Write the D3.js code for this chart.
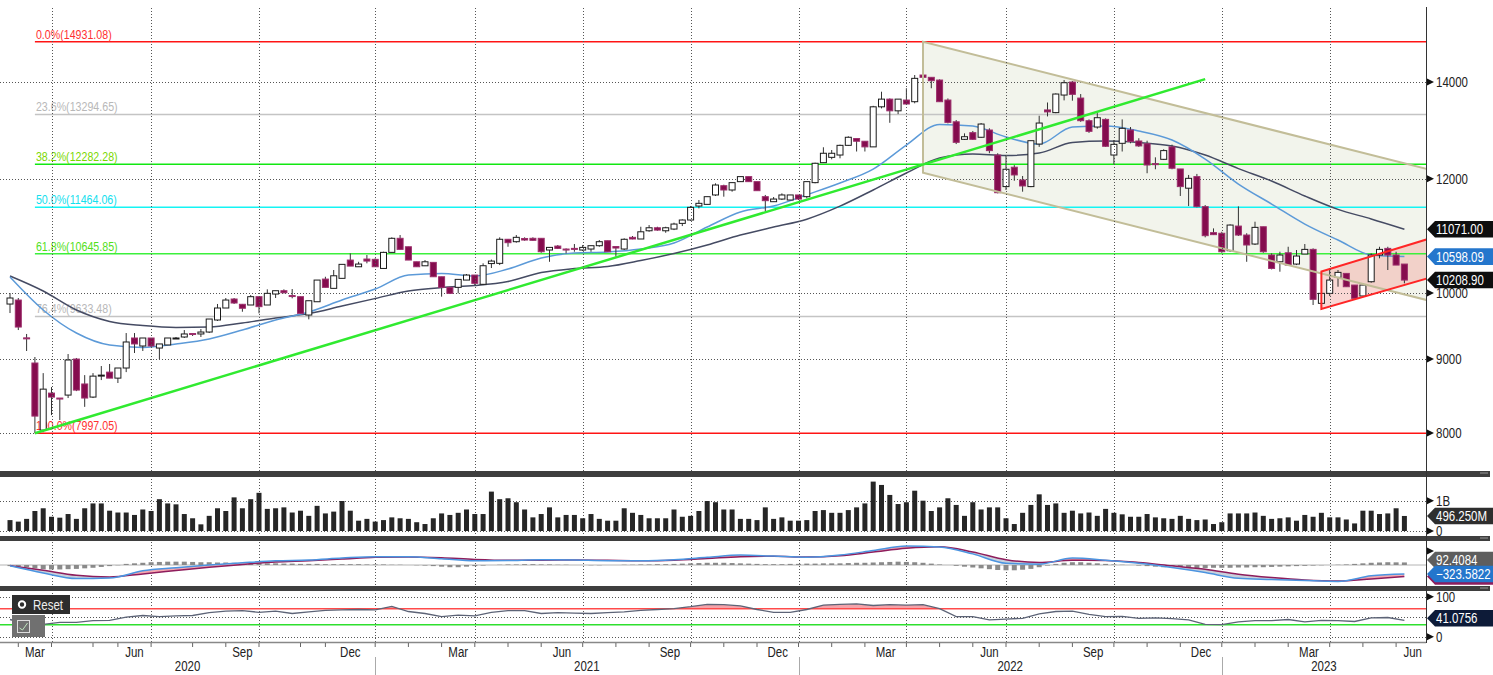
<!DOCTYPE html>
<html>
<head>
<meta charset="utf-8">
<script src="https://cdn.jsdelivr.net/npm/d3@7"></script>
<style>
  body { margin: 0; background: #fff; }
  svg { display: block; }
  text { font-family: "Liberation Sans", Arial, sans-serif; }
</style>
</head>
<body>
<div id="chart"></div>
<script>
// weekly candles, one per trading week (bar index 0..168)
var opens = [9826, 9889, 9310, 8944, 8036, 8525, 8458, 8498, 9001, 8650,
  8471, 8766, 8815, 8731, 8873, 9308, 9190, 9308, 9160, 9205,
  9300, 9323, 9375, 9368, 9397, 9579, 9764, 9905, 9822, 9811,
  9942, 9811, 9984, 10037, 9960, 9942, 9655, 9862, 10225, 10075,
  10237, 10540, 10428, 10557, 10552, 10400, 10670, 10912, 10766, 10511,
  10444, 10501, 10263, 10091, 10091, 10209, 10291, 10140, 10481, 10485,
  10895, 10853, 10909, 10912, 10912, 10710, 10778, 10727, 10738, 10710,
  10727, 10784, 10870, 10770, 10727, 10929, 10900, 11044, 11097, 11044,
  11074, 11175, 11235, 11488, 11519, 11693, 11867, 11786, 11944, 12040,
  11944, 11661, 11568, 11617, 11599, 11693, 11661, 11925, 12311, 12416,
  12462, 12656, 12794, 12739, 12625, 13458, 13624, 13372, 13604, 13568,
  14158, 14106, 14045, 13604, 13140, 12778, 12914, 12820, 12969, 12462,
  11850, 12222, 11975, 11850, 12682, 13391, 13334, 13713, 14000, 13647,
  13163, 13031, 13191, 12462, 12697, 12969, 12744, 12688, 12292, 12377,
  12625, 12188, 11820, 12040, 11477, 11011, 11000, 10698, 11127, 10969,
  10813, 11115, 10625, 10511, 10663, 10473, 10642, 10721, 9837, 9995,
  10253, 10318, 10128, 9953, 10182, 10625, 10738, 10625, 10473];
var highs = [10000, 9921, 9368, 9030, 8801, 8607, 8458, 9073, 9016, 8773,
  8801, 8901, 8930, 8873, 9382, 9382, 9308, 9308, 9220, 9308,
  9323, 9427, 9382, 9442, 9594, 9827, 9921, 9921, 9827, 9968,
  9942, 10059, 10037, 10059, 10064, 9942, 9878, 10209, 10263, 10374,
  10468, 10653, 10511, 10625, 10569, 10681, 10929, 10969, 10766, 10511,
  10540, 10501, 10263, 10091, 10220, 10308, 10291, 10485, 10548, 10929,
  10900, 10969, 10929, 10929, 10912, 10755, 10796, 10738, 10813, 10796,
  10784, 10882, 10870, 10775, 10912, 10952, 11115, 11145, 11115, 11115,
  11187, 11247, 11488, 11599, 11661, 11912, 11886, 11925, 12040, 12040,
  11944, 11693, 11655, 11723, 11693, 11693, 11944, 12311, 12617, 12562,
  12670, 12840, 12794, 12739, 13479, 13786, 13639, 13624, 13862, 14158,
  14931.08, 14106, 14060, 13639, 13177, 12900, 12949, 13114, 13004, 12497,
  12462, 12262, 12052, 12750, 13268, 13551, 13750, 14045, 14023, 13735,
  13191, 13324, 13212, 12764, 13191, 13031, 12800, 12750, 12416, 12577,
  12670, 12188, 12072, 12092, 11506, 11086, 11026, 11157, 11482, 11000,
  11205, 11115, 10653, 10681, 10766, 10710, 10813, 10738, 9995, 10402,
  10374, 10318, 10128, 10156, 10653, 10766, 10766, 10681, 10473];
var lows = [9686, 9427, 9117, 7997.05, 8010, 8231, 8166, 8458, 8552, 8340,
  8458, 8704, 8731, 8663, 8815, 9088, 9117, 9175, 9001, 9205,
  9293, 9308, 9338, 9323, 9382, 9564, 9764, 9827, 9706, 9811,
  9681, 9811, 9921, 9995, 9916, 9681, 9589, 9862, 10091, 10075,
  10237, 10439, 10428, 10485, 10428, 10400, 10670, 10721, 10540, 10428,
  10444, 10263, 9942, 9984, 9995, 10209, 10128, 10128, 10407, 10456,
  10766, 10836, 10870, 10870, 10663, 10511, 10727, 10653, 10681, 10693,
  10681, 10766, 10681, 10597, 10710, 10895, 10900, 11026, 11044, 11009,
  11056, 11127, 11222, 11445, 11519, 11674, 11661, 11754, 11944, 11944,
  11773, 11394, 11568, 11599, 11599, 11599, 11630, 11912, 12311, 12377,
  12397, 12650, 12532, 12532, 12625, 13424, 13119, 13302, 13496, 13533,
  14106, 13862, 13568, 13106, 12682, 12764, 12764, 12808, 12497, 11723,
  11786, 11961, 11754, 11839, 12625, 13253, 13321, 13597, 13590, 13140,
  12910, 12997, 12625, 12283, 12532, 12697, 12625, 12105, 12182, 12363,
  12182, 11674, 11488, 11464, 10929, 10969, 10663, 10681, 10952, 10511,
  10796, 10663, 10384, 10346, 10456, 10456, 10642, 9811, 9733, 9953,
  10101, 10101, 9916, 9942, 10166, 10569, 10374, 10456, 10156];
var closes = [9921, 9472, 9300, 8218, 8579, 8471, 8445, 8987, 8566, 8458,
  8759, 8773, 8731, 8873, 9249, 9220, 9308, 9190, 9220, 9308,
  9308, 9368, 9360, 9397, 9594, 9764, 9889, 9842, 9760, 9942,
  9785, 9995, 10037, 10005, 9944, 9681, 9878, 10209, 10091, 10279,
  10468, 10439, 10473, 10523, 10428, 10670, 10912, 10721, 10540, 10428,
  10511, 10263, 10091, 9995, 10220, 10291, 10156, 10445, 10523, 10895,
  10836, 10929, 10882, 10877, 10681, 10755, 10738, 10710, 10735, 10755,
  10784, 10853, 10681, 10744, 10895, 10900, 11026, 11097, 11056, 11097,
  11163, 11235, 11464, 11538, 11661, 11880, 11786, 11925, 12040, 11944,
  11773, 11587, 11617, 11693, 11693, 11617, 11944, 12299, 12497, 12497,
  12656, 12820, 12739, 12625, 13458, 13624, 13372, 13624, 13518, 14083,
  14106, 14030, 13568, 13128, 12717, 12831, 12778, 13093, 12550, 11735,
  12182, 12072, 11862, 12750, 13114, 13349, 13735, 13985, 13728, 13163,
  12942, 13226, 12637, 12676, 13004, 12733, 12644, 12265, 12273, 12550,
  12202, 11850, 12007, 11477, 10958, 10976, 10681, 11145, 10969, 10796,
  11104, 10681, 10400, 10625, 10456, 10608, 10721, 9900, 9995, 10209,
  10335, 10101, 9916, 10128, 10625, 10721, 10625, 10456, 10208.90];

// weekly volume, billions
var volumes = [0.36, 0.31, 0.40, 0.66, 0.75, 0.47, 0.44, 0.56, 0.40, 0.75,
  0.91, 0.91, 0.67, 0.61, 0.61, 0.53, 0.71, 0.66, 1.05, 0.91,
  0.88, 0.56, 0.42, 0.22, 0.50, 0.75, 0.66, 1.11, 0.75, 1.05,
  1.26, 0.73, 0.75, 0.78, 0.61, 0.67, 0.50, 0.83, 0.58, 0.64,
  0.99, 0.67, 0.34, 0.40, 0.31, 0.36, 0.45, 0.42, 0.40, 0.29,
  0.23, 0.42, 0.58, 0.53, 0.60, 0.71, 0.56, 0.56, 1.30, 1.05,
  1.08, 0.95, 0.71, 0.45, 0.56, 0.78, 0.45, 0.53, 0.53, 0.42,
  0.56, 0.40, 0.34, 0.34, 0.75, 0.60, 0.53, 0.42, 0.42, 0.42,
  0.71, 0.47, 0.50, 0.66, 0.99, 0.95, 0.71, 0.71, 0.40, 0.40,
  0.36, 0.78, 0.40, 0.45, 0.34, 0.34, 0.36, 0.66, 0.69, 0.60,
  0.60, 0.69, 0.78, 0.91, 1.63, 1.52, 1.19, 0.89, 0.95, 1.33,
  1.00, 0.66, 0.78, 1.08, 0.86, 0.50, 0.95, 0.71, 0.78, 0.78,
  0.42, 0.23, 0.60, 0.86, 1.21, 0.86, 0.91, 0.60, 0.67, 0.58,
  0.61, 0.50, 0.73, 0.60, 0.55, 0.47, 0.47, 0.56, 0.45, 0.42,
  0.40, 0.50, 0.40, 0.36, 0.38, 0.23, 0.29, 0.58, 0.58, 0.58,
  0.61, 0.50, 0.40, 0.42, 0.45, 0.34, 0.53, 0.47, 0.60, 0.45,
  0.45, 0.38, 0.25, 0.67, 0.67, 0.56, 0.58, 0.75, 0.49625];

// moving averages, read every 4th bar (0, 4, ... 168)
var maStep = 4;
var ma20 = [10258, 9733, 9382, 9204, 9168, 9219, 9293, 9427, 9579, 9702,
  9889, 10064, 10291, 10316, 10275, 10390, 10574, 10659, 10676, 10727,
  10830, 11110, 11380, 11488, 11697, 11918, 12186, 12662, 13086, 13051,
  12825, 12682, 13032, 13051, 12949, 12764, 12383, 11898, 11525, 11163,
  10882, 10625, 10598.09];
var ma40 = [10275, 10032, 9733, 9557, 9495, 9465, 9472, 9533, 9609, 9678,
  9795, 9913, 10032, 10088, 10120, 10185, 10332, 10398, 10432, 10532,
  10650, 10796, 10969, 11110, 11250, 11486, 11786, 12110, 12402, 12482,
  12452, 12502, 12713, 12743, 12713, 12644, 12462, 12195, 11956, 11674,
  11427, 11254, 11071.00];

// MACD, read every 4th bar
var macdLine = [-30, -290, -490, -470, -210, -100, 0, 80, 150, 180,
  250, 300, 300, 225, 150, 160, 190, 180, 156, 156,
  190, 276, 360, 320, 280, 360, 520, 680, 650, 400,
  60, 30, 250, 170, 60, -90, -270, -480, -520, -560,
  -590, -390, -323.5822];
var macdSignal = [-20, -190, -370, -430, -320, -200, -80, 20, 110, 155,
  215, 275, 290, 260, 200, 170, 175, 180, 168, 156,
  175, 235, 300, 315, 285, 330, 465, 600, 655, 470,
  190, 90, 170, 165, 90, -30, -150, -330, -450, -540,
  -575, -500, -415.99];
var macdHist = [-40, -60, -80, -120, -150, -160, -160, -150, -140, -120,
  -100, -70, -40, -10, 40, 60, 80, 100, 110, 120,
  120, 120, 110, 100, 100, 90, 90, 80, 80, 70,
  70, 60, 60, 50, 50, 40, 40, 40, 30, 30,
  30, 30, 30, 20, 20, 20, 10, 10, 0, -10,
  -20, -40, -60, -80, -80, -60, -40, -20, 0, 10,
  20, 20, 30, 30, 20, 20, 10, 10, 0, 0,
  -10, -10, 0, 0, 10, 10, 20, 20, 30, 30,
  40, 50, 60, 70, 80, 80, 80, 70, 60, 50,
  40, 30, 30, 30, 40, 40, 50, 50, 60, 60,
  60, 70, 80, 80, 90, 100, 110, 120, 110, 100,
  80, 50, 20, 0, -30, -60, -90, -120, -150, -180,
  -190, -190, -170, -140, -80, -20, 40, 80, 100, 100,
  80, 60, 40, 20, 10, 0, -20, -40, -60, -80,
  -100, -110, -120, -120, -110, -100, -100, -100, -90, -90,
  -80, -80, -70, -60, -50, -40, -30, -20, -10, 0,
  10, 20, 40, 60, 80, 90, 100, 95, 92.4084];

// RSI, read every 2nd bar
var rsiStep = 2;
var rsi = [43, 32, 31, 36, 36, 40, 41, 49, 53, 50,
  52, 53, 60, 64, 65, 61, 64, 58, 62, 66,
  67, 68, 67, 76, 63, 58, 50, 54, 52, 61,
  65, 65, 58, 60, 59, 58, 60, 62, 66, 68,
  70, 75, 81, 80, 77, 68, 61, 61, 68, 79,
  81, 82, 78, 80, 79, 80, 70, 50, 50, 42,
  44, 46, 57, 63, 64, 56, 50, 51, 46, 47,
  45, 42, 31, 30, 37, 40, 40, 43, 37, 41,
  40, 38, 47, 48, 41.0756];

// fibonacci retracement from the Mar-2020 low to the 2022 high
var fibStartBar = 3;
var fibPct = ["0.0%", "23.6%", "38.2%", "50.0%", "61.8%", "76.4%", "100.0%"];
var fibValues = [14931.08, 13294.65, 12282.28, 11464.06, 10645.85, 9633.48, 7997.05];

// drawn trend objects (bar index, price)
var trendBars = [3, 144], trendVals = [7997.05, 14065];
var chanBars = [110, 171], chanUpper = [14931.08, 12175], chanLower = [12115, 9878];
var redBars = [158, 171], redUpper = [10349, 10906], redLower = [9748, 10245];

var priceTicks = [8000, 9000, 10000, 12000, 14000];
// first bar of each month, Mar 2020 .. Jul 2023
var monthStarts = [1, 5, 10, 13, 17, 22, 26, 30, 35, 38,
  44, 48, 52, 56, 60, 64, 69, 73, 77, 82, 86, 90,
  95, 99, 103, 108, 112, 116, 120, 124, 128, 133, 137, 141,
  146, 150, 154, 159, 163, 167, 171];
var monthNames = ["Jan","Feb","Mar","Apr","May","Jun","Jul","Aug","Sep","Oct","Nov","Dec"];
var firstMonth = 2, firstYear = 2020;

// ---------------------------------------------------------------
var maroon = "#850c4e";
var axisX = 1426;
var narrow = 0.82; // Bloomberg uses a narrow face
var svg = d3.select("#chart").append("svg").attr("width", 1493).attr("height", 675);

var x = d3.scaleLinear().domain([0, 168]).range([10, 1404.4]);
var yP = d3.scaleLog().domain([7529, 15755]).range([471, 8]);
var yV = d3.scaleLinear().domain([0, 1]).range([531, 500.7]);
var yM = d3.scaleLinear().domain([-792, 864]).range([587, 541]);
var yR = d3.scaleLinear().domain([0, 100]).range([636.7, 596.7]);

function tr(px, py) { return "translate(" + px + "," + py + ") scale(" + narrow + ",1)"; }
function ntext(g, px, py, t, size, fill, anchor) {
  return g.append("text").attr("transform", tr(px, py))
    .attr("text-anchor", anchor || "start").attr("fill", fill)
    .style("font-size", size + "px").text(t);
}

var defs = svg.append("defs");
function clip(id, x0, y0, w, h) {
  defs.append("clipPath").attr("id", id).append("rect")
    .attr("x", x0).attr("y", y0).attr("width", w).attr("height", h);
}
clip("cMain", 0, 8, axisX, 463);
clip("cMacd", 0, 541, axisX, 45);
clip("cRsi", 0, 591, axisX, 51);
clip("cRsiHi", 0, 591, axisX, yR(70) - 591);
clip("cRsiLo", 0, yR(30), axisX, 642 - yR(30));

var months = monthStarts.map(function(b, k) {
  var m = (firstMonth + k) % 12;
  return {bar: b, m: m, year: firstYear + Math.floor((firstMonth + k) / 12), next: monthStarts[k + 1]};
});
var quarters = months.filter(function(d) { return d.m % 3 === 0 && d.bar <= 168; });

var main = svg.append("g").attr("clip-path", "url(#cMain)");

// channel fills
function trendPts(bars, vals) {
  return bars.map(function(b, k) { return [x(b), yP(vals[k])]; });
}
var cu = trendPts(chanBars, chanUpper), cl = trendPts(chanBars, chanLower);
main.append("path")
  .attr("d", "M" + cu[0] + "L" + cu[1] + "L" + cl[1] + "L" + cl[0] + "Z")
  .attr("fill", "#eef0e6").attr("opacity", 0.75);
var ru = trendPts(redBars, redUpper), rl = trendPts(redBars, redLower);
main.append("path")
  .attr("d", "M" + ru[0] + "L" + ru[1] + "L" + rl[1] + "L" + rl[0] + "Z")
  .attr("fill", "#f2a79f").attr("opacity", 0.45);

// grid
var dotted = {stroke: "#555", dash: "1,2"};
svg.append("g").selectAll("line").data(quarters).enter().append("line")
  .attr("x1", function(d) { return Math.round(x(d.bar)) + 0.5; })
  .attr("x2", function(d) { return Math.round(x(d.bar)) + 0.5; })
  .attr("y1", 8).attr("y2", 642)
  .attr("stroke", dotted.stroke).attr("stroke-dasharray", dotted.dash);
main.append("g").selectAll("line").data(priceTicks).enter().append("line")
  .attr("x1", 0).attr("x2", axisX)
  .attr("y1", function(d) { return Math.round(yP(d)) + 0.5; })
  .attr("y2", function(d) { return Math.round(yP(d)) + 0.5; })
  .attr("stroke", dotted.stroke).attr("stroke-dasharray", dotted.dash);

// fibonacci lines
var fibLine = ["#ff1414", "#c4c4c4", "#12e812", "#14f4f4", "#3cf03c", "#c4c4c4", "#ff1414"];
var fibText = ["#ff3030", "#b8b8b8", "#7ad800", "#12e0ee", "#52e01a", "#b8b8b8", "#ff3030"];
var fib = main.append("g").selectAll("g").data(fibValues).enter().append("g");
fib.append("line")
  .attr("x1", x(fibStartBar)).attr("x2", axisX)
  .attr("y1", function(d) { return yP(d); }).attr("y2", function(d) { return yP(d); })
  .attr("stroke", function(d, i) { return fibLine[i]; }).attr("stroke-width", 1.5);
fib.append("text")
  .attr("transform", function(d) { return tr(x(fibStartBar) + 1, yP(d) - 3); })
  .attr("fill", function(d, i) { return fibText[i]; })
  .style("font-size", "13px")
  .text(function(d, i) { return fibPct[i] + "(" + d3.format(".2f")(d) + ")"; });

// moving averages
function maLine(vals) {
  return d3.line().curve(d3.curveMonotoneX)
    .x(function(d, k) { return x(k * maStep); })
    .y(function(d) { return yP(d); })(vals);
}
main.append("path").attr("d", maLine(ma40)).attr("fill", "none")
  .attr("stroke", "#454b63").attr("stroke-width", 1.5);
main.append("path").attr("d", maLine(ma20)).attr("fill", "none")
  .attr("stroke", "#5c9ad8").attr("stroke-width", 1.5);

// candles
var bars = opens.map(function(o, i) { return {i: i, o: o, h: highs[i], l: lows[i], c: closes[i]}; });
var cg = main.append("g").selectAll("g").data(bars).enter().append("g");
cg.append("line")
  .attr("x1", function(d) { return x(d.i); }).attr("x2", function(d) { return x(d.i); })
  .attr("y1", function(d) { return yP(d.h); }).attr("y2", function(d) { return yP(d.l); })
  .attr("stroke", "#333").attr("stroke-width", 1);
cg.append("rect")
  .attr("x", function(d) { return x(d.i) - 3; }).attr("width", 6)
  .attr("y", function(d) { return yP(Math.max(d.o, d.c)); })
  .attr("height", function(d) { return Math.max(1, Math.abs(yP(d.o) - yP(d.c))); })
  .attr("fill", function(d) { return d.c >= d.o ? "#fff" : maroon; })
  .attr("stroke", function(d) { return d.c >= d.o ? "#1a1a1a" : "#9c2f6c"; })
  .attr("stroke-width", 1);

// channel outlines + trend line
main.append("path")
  .attr("d", "M" + cu[1] + "L" + cu[0] + "L" + cl[0] + "L" + cl[1])
  .attr("fill", "none").attr("stroke", "#c2bd98").attr("stroke-width", 2);
main.append("path")
  .attr("d", "M" + ru[1] + "L" + ru[0] + "L" + rl[0] + "L" + rl[1])
  .attr("fill", "none").attr("stroke", "#ff2626").attr("stroke-width", 2);
var tp = trendPts(trendBars, trendVals);
main.append("line").attr("x1", tp[0][0]).attr("y1", tp[0][1]).attr("x2", tp[1][0]).attr("y2", tp[1][1])
  .attr("stroke", "#30ea30").attr("stroke-width", 2.5);

// volume panel
svg.append("g").selectAll("line").data([0, 1]).enter().append("line")
  .attr("x1", 0).attr("x2", axisX)
  .attr("y1", function(d) { return Math.round(yV(d)) + 0.5; })
  .attr("y2", function(d) { return Math.round(yV(d)) + 0.5; })
  .attr("stroke", dotted.stroke).attr("stroke-dasharray", dotted.dash);
svg.append("g").selectAll("rect").data(volumes).enter().append("rect")
  .attr("x", function(d, i) { return x(i) - 2.5; }).attr("width", 5)
  .attr("y", function(d) { return yV(d); })
  .attr("height", function(d) { return yV(0) - yV(d); })
  .attr("fill", "#262626");

// MACD panel
var mg = svg.append("g").attr("clip-path", "url(#cMacd)");
mg.append("line").attr("x1", 0).attr("x2", axisX).attr("y1", yM(0)).attr("y2", yM(0))
  .attr("stroke", "#b4b4b4").attr("stroke-width", 1);
mg.append("g").selectAll("rect").data(macdHist).enter().append("rect")
  .attr("x", function(d, i) { return x(i) - 2.5; }).attr("width", 5)
  .attr("y", function(d) { return Math.min(yM(d), yM(0)); })
  .attr("height", function(d) { return Math.abs(yM(d) - yM(0)); })
  .attr("fill", "#8a8a8a");
var mPts = macdLine.map(function(v, k) { return {i: k * maStep, a: v, b: macdSignal[k]}; });
function mArea(y0, key) {
  return d3.area().curve(d3.curveMonotoneX).x(function(d) { return x(d.i); })
    .y0(y0).y1(function(d) { return yM(d[key]); })(mPts);
}
defs.append("clipPath").attr("id", "cAboveA").append("path").attr("d", mArea(0, "a"));
defs.append("clipPath").attr("id", "cBelowA").append("path").attr("d", mArea(675, "a"));
mg.append("path").attr("clip-path", "url(#cAboveA)").attr("d", mArea(675, "b")).attr("fill", "#c9d1dc");
mg.append("path").attr("clip-path", "url(#cBelowA)").attr("d", mArea(0, "b")).attr("fill", "#f6a9b0");
mg.append("path")
  .attr("d", d3.line().curve(d3.curveMonotoneX).x(function(d) { return x(d.i); }).y(function(d) { return yM(d.b); })(mPts))
  .attr("fill", "none").attr("stroke", "#8e1d5c").attr("stroke-width", 1.5);
mg.append("path")
  .attr("d", d3.line().curve(d3.curveMonotoneX).x(function(d) { return x(d.i); }).y(function(d) { return yM(d.a); })(mPts))
  .attr("fill", "none").attr("stroke", "#4b94e0").attr("stroke-width", 1.5);

// RSI panel
var rg = svg.append("g").attr("clip-path", "url(#cRsi)");
rg.selectAll("line.g").data([0, 50, 100]).enter().append("line")
  .attr("x1", 0).attr("x2", axisX)
  .attr("y1", function(d) { return Math.round(yR(d)) + 0.5; })
  .attr("y2", function(d) { return Math.round(yR(d)) + 0.5; })
  .attr("stroke", dotted.stroke).attr("stroke-dasharray", dotted.dash);
var rPts = rsi.map(function(v, k) { return {i: k * rsiStep, v: v}; });
rg.append("path").attr("clip-path", "url(#cRsiHi)")
  .attr("d", d3.area().x(function(d) { return x(d.i); }).y0(yR(70)).y1(function(d) { return yR(d.v); })(rPts))
  .attr("fill", "#f4a3aa");
rg.append("path").attr("clip-path", "url(#cRsiLo)")
  .attr("d", d3.area().x(function(d) { return x(d.i); }).y0(yR(30)).y1(function(d) { return yR(d.v); })(rPts))
  .attr("fill", "#2a8a2a");
rg.append("line").attr("x1", 0).attr("x2", axisX).attr("y1", yR(70)).attr("y2", yR(70))
  .attr("stroke", "#ff4a4a").attr("stroke-width", 1.5);
rg.append("line").attr("x1", 0).attr("x2", axisX).attr("y1", yR(30)).attr("y2", yR(30))
  .attr("stroke", "#2ee02e").attr("stroke-width", 1.5);
rg.append("path")
  .attr("d", d3.line().x(function(d) { return x(d.i); }).y(function(d) { return yR(d.v); })(rPts))
  .attr("fill", "none").attr("stroke", "#5d6477").attr("stroke-width", 1.3);

// panel separators
[[471, 6], [536, 5], [586, 5]].forEach(function(s) {
  svg.append("rect").attr("x", 0).attr("y", s[0]).attr("width", 1490).attr("height", s[1]).attr("fill", "#3e3e3e");
  svg.append("line").attr("x1", 1480).attr("x2", 1488).attr("y1", s[0] + 2).attr("y2", s[0] + 2).attr("stroke", "#999");
});

// right axis
var ax = svg.append("g");
ax.append("line").attr("x1", axisX + 0.5).attr("x2", axisX + 0.5).attr("y1", 7).attr("y2", 643)
  .attr("stroke", "#333").attr("stroke-width", 1);
function tickMark(y) {
  ax.append("path").attr("d", "M" + (axisX + 1) + "," + (y - 3.5) + "L" + (axisX + 8) + "," + y + "L" + (axisX + 1) + "," + (y + 3.5) + "Z")
    .attr("fill", "#111");
}
function tickText(y, t) { ntext(ax, axisX + 10, y + 5, t, 14, "#222"); }
priceTicks.forEach(function(v) { tickMark(yP(v)); tickText(yP(v), d3.format("d")(v)); });
tickMark(yV(1)); tickText(yV(1), "1B");
tickMark(yV(0)); tickText(yV(0), "0");
tickMark(yM(500));
tickMark(yR(100)); tickText(yR(100), "100");
tickMark(yR(0)); tickText(yR(0), "0");

function valueBox(yc, t, fill) {
  var h = 16.6, xb = axisX + 9;
  ax.append("path")
    .attr("d", "M" + (axisX + 1) + "," + yc + "L" + xb + "," + (yc - h / 2) + "L1493," + (yc - h / 2) +
      "L1493," + (yc + h / 2) + "L" + xb + "," + (yc + h / 2) + "Z")
    .attr("fill", fill);
  ntext(ax, axisX + 10, yc + 5, t, 14, "#fff");
}
var last = opens.length - 1;
valueBox(yP(ma40[ma40.length - 1]), d3.format(".2f")(ma40[ma40.length - 1]), "#0e0e0e");
valueBox(yP(ma20[ma20.length - 1]), d3.format(".2f")(ma20[ma20.length - 1]), "#2476cc");
valueBox(yP(closes[last]), d3.format(".2f")(closes[last]), "#0e0e0e");
valueBox(yV(volumes[last]), d3.format(".3f")(volumes[last] * 1000) + "M", "#2e2e2e");
valueBox(yM(macdSignal[macdSignal.length - 1]), d3.format(".4f")(macdSignal[macdSignal.length - 1]), "#8e1d5c");
valueBox(yM(macdHist[last]) - 2.5, d3.format(".4f")(macdHist[last]), "#5e5e5e");
valueBox(yM(macdLine[macdLine.length - 1]), d3.format(".4f")(macdLine[macdLine.length - 1]), "#2476cc");
valueBox(yR(rsi[rsi.length - 1]) - 2, d3.format(".4f")(rsi[rsi.length - 1]), "#0d1b38");

// bottom time axis
var bx = svg.append("g");
bx.append("line").attr("x1", 0).attr("x2", axisX).attr("y1", 642.5).attr("y2", 642.5)
  .attr("stroke", "#888").attr("stroke-width", 1.5);
bx.selectAll("line.t").data(months.filter(function(d) { return d.bar <= 168; })).enter().append("line")
  .attr("x1", function(d) { return x(d.bar); }).attr("x2", function(d) { return x(d.bar); })
  .attr("y1", 643).attr("y2", 647).attr("stroke", "#666");
bx.selectAll("text.m").data(months.filter(function(d) { return d.m % 3 === 2; })).enter().append("text")
  .attr("transform", function(d) { return tr((x(d.bar) + x(d.next)) / 2, 657); })
  .attr("text-anchor", "middle").attr("fill", "#222").style("font-size", "14px")
  .text(function(d) { return monthNames[d.m]; });
var jans = months.filter(function(d) { return d.m === 0; });
bx.selectAll("line.y").data(jans).enter().append("line")
  .attr("x1", function(d) { return Math.round(x(d.bar)) + 0.5; })
  .attr("x2", function(d) { return Math.round(x(d.bar)) + 0.5; })
  .attr("y1", 657).attr("y2", 675).attr("stroke", "#aaa");
var yearEdges = [0].concat(jans.map(function(d) { return x(d.bar); })).concat([axisX]);
bx.selectAll("text.y").data(d3.range(yearEdges.length - 1)).enter().append("text")
  .attr("transform", function(k) { return tr((yearEdges[k] + yearEdges[k + 1]) / 2, 671); })
  .attr("text-anchor", "middle").attr("fill", "#222").style("font-size", "14px")
  .text(function(k) { return firstYear + k; });

// reset control
var rc = svg.append("g");
rc.append("rect").attr("x", 12).attr("y", 595).attr("width", 58).attr("height", 19).attr("fill", "#2d2d2d");
rc.append("circle").attr("cx", 22).attr("cy", 604.5).attr("r", 3.2).attr("fill", "none")
  .attr("stroke", "#fff").attr("stroke-width", 2);
ntext(rc, 33, 609.5, "Reset", 14, "#eee");
rc.append("rect").attr("x", 12).attr("y", 615).attr("width", 33).attr("height", 22).attr("fill", "#707070");
rc.append("rect").attr("x", 17.5).attr("y", 620.5).attr("width", 12).attr("height", 12)
  .attr("fill", "none").attr("stroke", "#ddd");
rc.append("path").attr("d", "M19.5,628 L22.5,630 L27.5,623").attr("fill", "none").attr("stroke", "#bfe6bf");
</script>
</body>
</html>
